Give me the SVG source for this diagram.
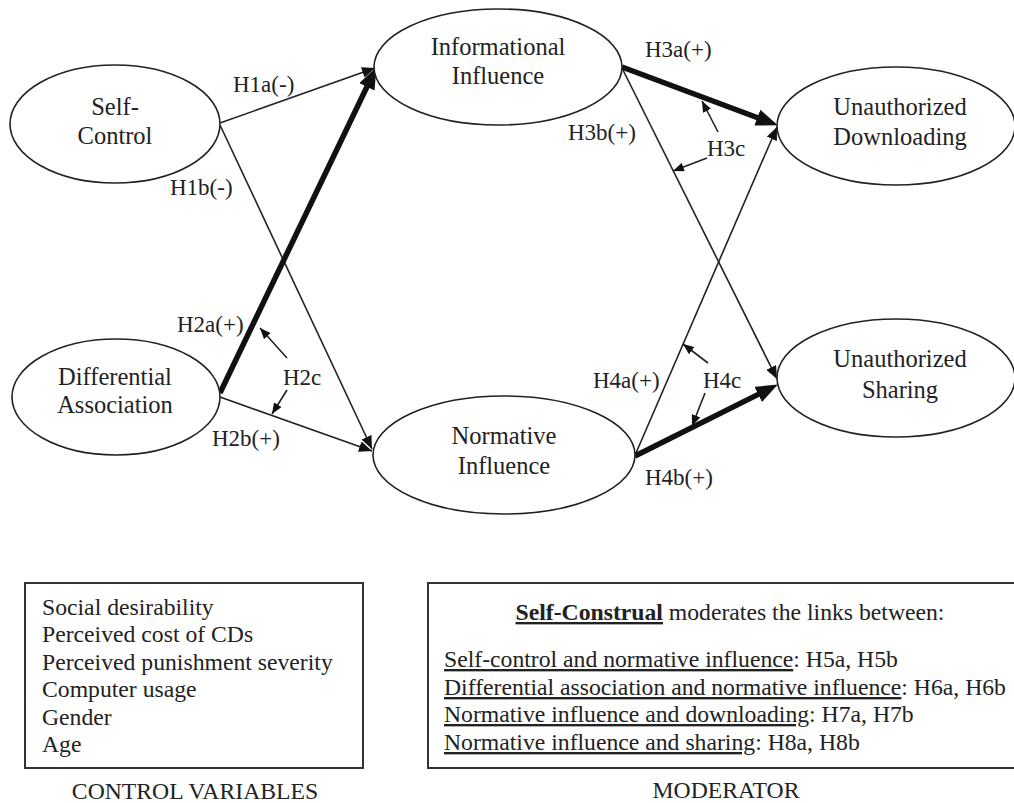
<svg xmlns="http://www.w3.org/2000/svg" width="1014" height="803" viewBox="0 0 1014 803">
<style>
  .node ellipse { fill: #fff; stroke: #222; stroke-width: 1.6; }
  .nt { font-family: "Liberation Serif", "Times New Roman", serif; font-size: 24.5px; fill: #222; text-anchor: middle; }
  .lbl { font-family: "Liberation Serif", "Times New Roman", serif; font-size: 23px; fill: #222; }
  .bx { font-family: "Liberation Serif", "Times New Roman", serif; font-size: 23.7px; fill: #222; }
  .thin { stroke: #222; stroke-width: 1.6; fill: none; }
  .thick { stroke: #111; stroke-width: 5.5; fill: none; }
  .mod { stroke: #222; stroke-width: 1.6; fill: none; }
  .box { fill: #fff; stroke: #333; stroke-width: 2; }
  .u { text-decoration: underline; }
</style>
<defs>
  <marker id="ah" markerUnits="userSpaceOnUse" markerWidth="13" markerHeight="11" refX="13" refY="5.5" orient="auto">
    <path d="M0,0 L13,5.5 L0,11 z" fill="#111"/>
  </marker>
  <marker id="ahk" markerUnits="userSpaceOnUse" markerWidth="22" markerHeight="17" refX="13" refY="8.5" orient="auto">
    <path d="M0,0 L22,8.5 L0,17 z" fill="#111"/>
  </marker>
  <marker id="ahs" markerUnits="userSpaceOnUse" markerWidth="11" markerHeight="9" refX="11" refY="4.5" orient="auto">
    <path d="M0,0 L11,4.5 L0,9 z" fill="#111"/>
  </marker>
</defs>
<rect width="1014" height="803" fill="#fff"/>

<g id="connectors">
  <line class="thin" x1="220" y1="123" x2="375" y2="68" marker-end="url(#ah)"/>
  <line class="thin" x1="220" y1="125" x2="372" y2="449" marker-end="url(#ah)"/>
  <line class="thick" x1="220" y1="393" x2="372.5" y2="75.2" marker-end="url(#ahk)"/>
  <line class="thin" x1="220" y1="397" x2="372" y2="451" marker-end="url(#ah)"/>
  <line class="thick" x1="622" y1="67" x2="769.5" y2="122.2" marker-end="url(#ahk)"/>
  <line class="thin" x1="623" y1="70" x2="777" y2="379" marker-end="url(#ah)"/>
  <line class="thin" x1="636" y1="453" x2="777" y2="127" marker-end="url(#ah)"/>
  <line class="thick" x1="635" y1="456" x2="769.8" y2="388.6" marker-end="url(#ahk)"/>
  <line class="mod" x1="287" y1="358" x2="260" y2="328" marker-end="url(#ahs)"/>
  <line class="mod" x1="287" y1="390" x2="272" y2="414" marker-end="url(#ahs)"/>
  <line class="mod" x1="718" y1="132" x2="702" y2="101" marker-end="url(#ahs)"/>
  <line class="mod" x1="707" y1="158" x2="673" y2="171" marker-end="url(#ahs)"/>
  <line class="mod" x1="708" y1="363" x2="683" y2="344" marker-end="url(#ahs)"/>
  <line class="mod" x1="705" y1="393" x2="692" y2="426" marker-end="url(#ahs)"/>
</g>

<g id="labels">
  <text class="lbl" x="233" y="92">H1a(-)</text>
  <text class="lbl" x="170" y="195">H1b(-)</text>
  <text class="lbl" x="177" y="332">H2a(+)</text>
  <text class="lbl" x="283" y="385">H2c</text>
  <text class="lbl" x="212" y="446">H2b(+)</text>
  <text class="lbl" x="645" y="57">H3a(+)</text>
  <text class="lbl" x="568" y="140">H3b(+)</text>
  <text class="lbl" x="707" y="156">H3c</text>
  <text class="lbl" x="593" y="388">H4a(+)</text>
  <text class="lbl" x="703" y="388">H4c</text>
  <text class="lbl" x="645" y="485">H4b(+)</text>
</g>

<g id="node-self-control" class="node">
  <ellipse cx="115" cy="124" rx="105" ry="59"/>
  <text class="nt" x="115" y="115">Self-</text>
  <text class="nt" x="115" y="144">Control</text>
</g>
<g id="node-differential-association" class="node">
  <ellipse cx="116" cy="397" rx="104" ry="58"/>
  <text class="nt" x="115" y="385">Differential</text>
  <text class="nt" x="115" y="413">Association</text>
</g>
<g id="node-informational-influence" class="node">
  <ellipse cx="498" cy="67" rx="124" ry="58"/>
  <text class="nt" x="498" y="55">Informational</text>
  <text class="nt" x="498" y="84">Influence</text>
</g>
<g id="node-normative-influence" class="node">
  <ellipse cx="504" cy="455" rx="131" ry="59"/>
  <text class="nt" x="504" y="444">Normative</text>
  <text class="nt" x="504" y="474">Influence</text>
</g>
<g id="node-unauthorized-downloading" class="node">
  <ellipse cx="896" cy="126" rx="119" ry="59"/>
  <text class="nt" x="900" y="115">Unauthorized</text>
  <text class="nt" x="900" y="145">Downloading</text>
</g>
<g id="node-unauthorized-sharing" class="node">
  <ellipse cx="896" cy="378" rx="119" ry="59"/>
  <text class="nt" x="900" y="367">Unauthorized</text>
  <text class="nt" x="900" y="398">Sharing</text>
</g>

<g id="control-variables">
  <rect class="box" x="25" y="583" width="338" height="185"/>
  <text class="bx" x="42" y="615">Social desirability</text>
  <text class="bx" x="42" y="642">Perceived cost of CDs</text>
  <text class="bx" x="42" y="670">Perceived punishment severity</text>
  <text class="bx" x="42" y="697">Computer usage</text>
  <text class="bx" x="42" y="725">Gender</text>
  <text class="bx" x="42" y="752">Age</text>
  <text class="bx" x="195" y="799" text-anchor="middle">CONTROL VARIABLES</text>
</g>

<g id="moderator">
  <rect class="box" x="428" y="583" width="620" height="185"/>
  <text class="bx" x="730" y="620" text-anchor="middle"><tspan class="u" font-weight="bold">Self-Construal</tspan> moderates the links between:</text>
  <text class="bx" x="444" y="667"><tspan class="u">Self-control and normative influence</tspan>: H5a, H5b</text>
  <text class="bx" x="444" y="695"><tspan class="u">Differential association and normative influence</tspan>: H6a, H6b</text>
  <text class="bx" x="444" y="722"><tspan class="u">Normative influence and downloading</tspan>: H7a, H7b</text>
  <text class="bx" x="444" y="750"><tspan class="u">Normative influence and sharing</tspan>: H8a, H8b</text>
  <text class="bx" x="726" y="798" text-anchor="middle">MODERATOR</text>
</g>
</svg>
